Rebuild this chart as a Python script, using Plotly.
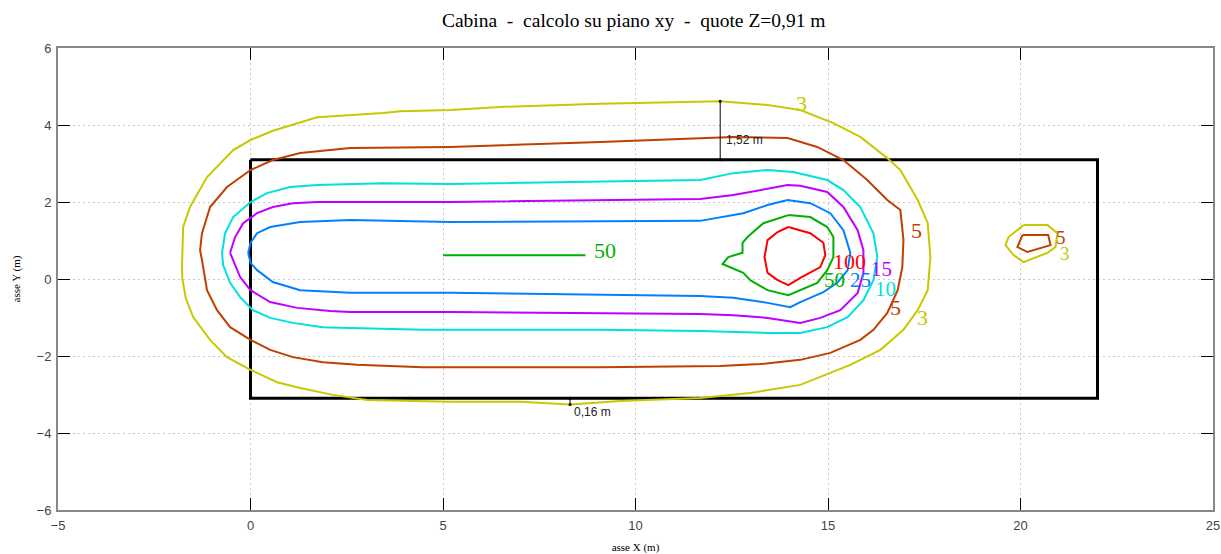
import plotly.graph_objects as go

# ---- data (metres) ----
c3_x = [-1.78, -1.75, -1.57, -1.13, -0.45, 0.0, 0.58, 1.73, 3.44, 3.89, 5.19, 6.49, 9.09, 11.68, 12.2, 13.43, 14.28, 15.14, 15.84, 16.54, 16.88, 17.33, 17.59, 17.66, 17.59, 17.33, 16.96, 16.36, 15.58, 14.28, 12.98, 11.68, 9.60, 8.31, 7.01, 5.19, 3.03, 2.14, 1.29, 0.69, 0.0, -0.61, -1.05, -1.49, -1.68, -1.77, -1.78]
c3_y = [0.31, 1.35, 1.87, 2.65, 3.35, 3.61, 3.85, 4.2, 4.31, 4.36, 4.39, 4.47, 4.55, 4.60, 4.62, 4.52, 4.39, 4.05, 3.69, 3.14, 2.83, 2.05, 1.45, 0.57, -0.29, -0.81, -1.32, -1.84, -2.23, -2.75, -2.96, -3.09, -3.17, -3.26, -3.19, -3.19, -3.14, -3.01, -2.83, -2.68, -2.36, -2.03, -1.58, -0.99, -0.5, 0.0, 0.31]

c5_x = [-1.26, -1.05, -0.61, 0.0, 0.58, 1.29, 2.59, 5.19, 9.09, 11.68, 12.54, 13.95, 14.72, 15.40, 16.02, 16.54, 16.88, 16.96, 16.93, 16.81, 16.54, 16.18, 15.84, 15.06, 14.28, 13.24, 12.2, 9.09, 5.19, 4.48, 2.77, 1.88, 1.10, 0.51, 0.0, -0.53, -0.87, -1.13, -1.26, -1.31, -1.26]
c5_y = [1.19, 1.87, 2.39, 2.83, 3.09, 3.27, 3.40, 3.43, 3.56, 3.66, 3.69, 3.66, 3.43, 3.09, 2.57, 2.05, 1.79, 1.01, 0.31, -0.29, -0.88, -1.32, -1.58, -1.92, -2.10, -2.21, -2.26, -2.29, -2.29, -2.29, -2.23, -2.16, -2.03, -1.84, -1.58, -1.25, -0.81, -0.29, 0.49, 0.75, 1.19]

c10_x = [-0.74, -0.66, -0.45, 0.0, 0.43, 1.03, 1.73, 3.44, 5.19, 11.68, 12.54, 13.43, 14.10, 14.98, 15.40, 15.84, 16.18, 16.28, 16.18, 15.92, 15.51, 14.98, 14.28, 13.43, 11.68, 9.09, 5.19, 4.48, 2.59, 1.88, 1.10, 0.51, 0.06, -0.27, -0.53, -0.71, -0.74]
c10_y = [0.68, 1.19, 1.61, 2.0, 2.23, 2.39, 2.44, 2.49, 2.47, 2.57, 2.75, 2.83, 2.78, 2.57, 2.31, 1.87, 1.19, 0.57, -0.03, -0.55, -0.99, -1.25, -1.40, -1.40, -1.35, -1.32, -1.32, -1.32, -1.27, -1.25, -1.14, -1.01, -0.81, -0.47, -0.10, 0.36, 0.68]

c15_x = [-0.53, -0.40, -0.19, 0.17, 0.58, 1.10, 1.73, 5.19, 11.68, 12.54, 13.95, 14.28, 14.98, 15.40, 15.77, 15.92, 15.92, 15.77, 15.32, 14.80, 14.28, 13.43, 12.54, 11.68, 5.19, 2.59, 2.07, 1.21, 0.51, 0.0, -0.27, -0.45, -0.53]
c15_y = [0.68, 1.09, 1.45, 1.71, 1.87, 1.97, 2.0, 2.0, 2.08, 2.18, 2.44, 2.42, 2.26, 1.87, 1.27, 0.75, 0.16, -0.36, -0.81, -1.01, -1.14, -1.01, -0.94, -0.91, -0.86, -0.86, -0.83, -0.75, -0.60, -0.29, 0.05, 0.49, 0.68]

c25_x = [-0.06, 0.0, 0.17, 0.51, 1.29, 2.59, 5.19, 11.68, 12.80, 13.43, 13.95, 14.54, 15.06, 15.40, 15.58, 15.51, 15.24, 14.88, 14.28, 14.02, 13.43, 12.54, 11.68, 5.19, 2.59, 1.29, 0.58, 0.17, 0.0, -0.06]
c25_y = [0.68, 0.94, 1.19, 1.35, 1.48, 1.53, 1.48, 1.51, 1.71, 1.92, 2.05, 1.97, 1.71, 1.27, 0.68, 0.23, -0.10, -0.34, -0.60, -0.73, -0.62, -0.49, -0.44, -0.36, -0.36, -0.29, -0.08, 0.23, 0.42, 0.68]

c50_x = [13.97, 14.54, 14.98, 15.14, 15.14, 14.98, 14.72, 13.97, 13.43, 12.98, 12.80, 12.26, 12.41, 12.78, 12.78, 12.91, 13.32, 13.97]
c50_y = [1.66, 1.61, 1.35, 1.09, 0.57, 0.23, -0.10, -0.42, -0.29, -0.03, 0.16, 0.39, 0.57, 0.68, 0.94, 1.09, 1.45, 1.66]

c100_x = [13.97, 14.54, 14.88, 14.93, 14.80, 14.28, 13.97, 13.69, 13.43, 13.35, 13.43, 13.69, 13.97]
c100_y = [1.35, 1.19, 0.94, 0.62, 0.31, 0.03, -0.16, -0.03, 0.16, 0.57, 1.01, 1.22, 1.35]

s3_x = [20.08, 20.70, 20.96, 20.91, 20.70, 20.08, 19.82, 19.61, 19.69, 20.08]
s3_y = [1.40, 1.40, 1.19, 0.83, 0.68, 0.44, 0.62, 0.88, 1.09, 1.40]
s5_x = [20.05, 20.72, 20.78, 20.18, 19.92, 20.05]
s5_y = [1.14, 1.14, 0.88, 0.70, 0.83, 1.14]

seg50_x = [5.0, 8.7]
seg50_y = [0.62, 0.62]

rect_x = [0, 22, 22, 0, 0]
rect_y = [3.1, 3.1, -3.1, -3.1, 3.1]

dim_top_x = [12.2, 12.2]
dim_top_y = [3.1, 4.62]
dim_bot_x = [8.3, 8.3]
dim_bot_y = [-3.1, -3.26]

labels = [
    ("3", 14.3, 4.55, "#c8c800", 22),
    ("3", 17.45, -1.0, "#c8c800", 22),
    ("5", 17.3, 1.25, "#c04000", 22),
    ("5", 16.75, -0.75, "#c04000", 22),
    ("100", 15.55, 0.45, "#ff0000", 22),
    ("50", 15.18, -0.03, "#00b000", 21),
    ("25", 15.85, -0.03, "#0080ff", 21),
    ("15", 16.4, 0.27, "#c000ff", 21),
    ("10", 16.5, -0.26, "#00e0e0", 21),
    ("50", 9.2, 0.75, "#00b000", 22),
    ("5", 21.05, 1.07, "#c04000", 19),
    ("3", 21.15, 0.66, "#c8c800", 19),
]

fig = go.Figure()

def add_line(x, y, color, width=2):
    fig.add_trace(go.Scatter(x=x, y=y, mode="lines", line=dict(color=color, width=width),
                             hoverinfo="skip", showlegend=False))

add_line(rect_x, rect_y, "black", 3)
add_line(c3_x, c3_y, "#c8c800")
add_line(s3_x, s3_y, "#c8c800")
add_line(c5_x, c5_y, "#c04000")
add_line(s5_x, s5_y, "#c04000")
add_line(c10_x, c10_y, "#00e0e0")
add_line(c15_x, c15_y, "#c000ff")
add_line(c25_x, c25_y, "#0080ff")
add_line(c50_x, c50_y, "#00b000")
add_line(seg50_x, seg50_y, "#00b000")
add_line(c100_x, c100_y, "#ff0000")

fig.add_trace(go.Scatter(x=dim_top_x, y=dim_top_y, mode="lines+markers",
                         line=dict(color="black", width=1), marker=dict(size=3, color="black"),
                         hoverinfo="skip", showlegend=False))
fig.add_trace(go.Scatter(x=dim_bot_x, y=dim_bot_y, mode="lines+markers",
                         line=dict(color="black", width=1), marker=dict(size=3, color="black"),
                         hoverinfo="skip", showlegend=False))

for t, x, y, c, s in labels:
    fig.add_annotation(x=x, y=y, text=t, showarrow=False, xanchor="center", yanchor="middle",
                       font=dict(family="Liberation Serif", size=s, color=c))

fig.add_annotation(x=12.3, y=3.6, text="1,52 m", showarrow=False, xanchor="left", yanchor="middle",
                   font=dict(family="Liberation Sans", size=12, color="#222"))
fig.add_annotation(x=8.35, y=-3.45, text="0,16 m", showarrow=False, xanchor="left", yanchor="middle",
                   font=dict(family="Liberation Sans", size=12, color="#222"))

axis_common = dict(showline=True, linecolor="#888888", linewidth=2, mirror="ticks",
                   ticks="inside", ticklen=12, tickcolor="black", tickwidth=1,
                   showgrid=True, gridcolor="#c8c8c8", griddash="2px,3px", gridwidth=1,
                   zeroline=False, automargin=False,
                   tickfont=dict(family="Liberation Sans", size=13, color="#444"))

fig.update_layout(
    width=1221, height=554,
    margin=dict(l=58, r=8, t=48, b=44),
    plot_bgcolor="white", paper_bgcolor="white",
    title=dict(text="Cabina  -  calcolo su piano xy  -  quote Z=0,91 m", x=0.519, xanchor="center",
               y=0.964, yanchor="middle", font=dict(family="Liberation Serif", size=19.5, color="black")),
    xaxis=dict(range=[-5, 25], dtick=5, tick0=0, ticklabelstandoff=2,
               title=dict(text="asse X (m)", standoff=12, font=dict(family="Liberation Serif", size=11, color="black")),
               **axis_common),
    yaxis=dict(range=[-6, 6], dtick=2, tick0=0, ticklabelstandoff=2,
               title=dict(text="asse Y (m)", standoff=14, font=dict(family="Liberation Serif", size=11, color="black")),
               **axis_common),
)

fig.write_html("out.html", config={"displayModeBar": False},
               post_script="document.body.style.margin='0';document.body.style.overflow='hidden';")
